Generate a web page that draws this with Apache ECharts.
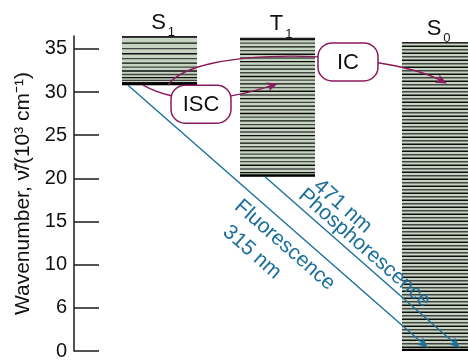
<!DOCTYPE html>
<html><head><meta charset="utf-8">
<script src="https://cdn.jsdelivr.net/npm/echarts@6/dist/echarts.min.js"></script>
<style>html,body{margin:0;padding:0;background:#fff}#c{width:468px;height:361px}</style>
</head><body><div id="c"></div>
<script>
// ---------------- data ----------------
const states = ['S', 'T', 'S'];
const stateSubs = ['1', '1', '0'];
const stateBottom = [30.8, 20.2, 0.0];     // 10^3 cm^-1
const stateTop = [36.5, 36.3, 35.8];
const yTickValues = [0, 5, 10, 15, 20, 25, 30, 35];
const yTickLabels = ['0', '6', '10', '15', '20', '25', '30', '35'];
const radNames = ['Fluorescence', 'Phosphorescence'];
const radWavelengths = ['315 nm', '471 nm'];
const radFrom = [0, 1];
const radTo = [2, 2];
const nonRadNames = ['ISC', 'IC'];
const nonRadFrom = [0, 0];
const nonRadTo = [1, 2];
const nonRadEndE = [31.0, 31.0];
const axisName = 'Wavenumber, \u03bd\u0303/(10\u00b3 cm\u207b\u00b9)';

// ---------------- layout / style (not data) ----------------
const FONT = '"Liberation Sans", Arial, Helvetica, sans-serif';
const FILL = '#c6d5c1';
const BLUE = '#1b6f9a';
const MAG = '#8a1a5a';
const STATE_X = [[48, 123], [166, 241], [328, 394]];
const STRIPE = [{g0: 2.1, k: 0.34}, {g0: 3.7, k: 0}, {g0: 3.5, k: 0}];
const RAD_X = [[54, 354], [191, 386]];
const RAD_TEXT = [{t: 0.56, n: 17, tw: 0.51, nw: 44}, {t: 0.47, n: -12, tw: 0.30, nw: -29}];
const NONRAD_PATH = [
  {x0: 69, x1: 204, c: [[117.5, 27.7]], box: [127, 28.6]},
  {x0: 94, x1: 373, c: [[121, 35.5], [306, 34.9]], box: [274, 33.5]}
];

const measureCtx = document.createElement('canvas').getContext('2d');
function textW(t, size) { measureCtx.font = size + 'px ' + FONT; return measureCtx.measureText(t).width; }

function arrowHead(tip, dx, dy, color) {
  const len = Math.hypot(dx, dy); const ux = dx / len, uy = dy / len;
  const L = 11, W = 4.6;
  const bx = tip[0] - ux * L, by = tip[1] - uy * L;
  const nx = -uy, ny = ux;
  return {type: 'polygon', shape: {points: [
    tip, [bx + nx * W, by + ny * W], [tip[0] - ux * L * 0.75, tip[1] - uy * L * 0.75], [bx - nx * W, by - ny * W]
  ]}, style: {fill: color}};
}

function renderStates(params, api) {
  const i = params.dataIndex;
  const pb = api.coord([STATE_X[i][0], api.value(1)]);
  const pt = api.coord([STATE_X[i][1], api.value(2)]);
  const x0 = pb[0], x1 = pt[0], yb = pb[1], yt = pt[1];
  const ch = [{type: 'rect', shape: {x: x0, y: yt, width: x1 - x0, height: yb - yt}, style: {fill: FILL}}];
  const sp = STRIPE[i];
  let y = yb - (sp.g0 + 0.3), k = 0;
  while (y > yt + 0.4) {
    ch.push({type: 'line', shape: {x1: x0, y1: y, x2: x1, y2: y},
      style: {stroke: k % 2 ? '#444' : '#0e0e0e', lineWidth: 1.35}});
    k++;
    y -= sp.g0 + sp.k * k;
  }
  ch.push({type: 'line', shape: {x1: x0, y1: yt + 0.6, x2: x1, y2: yt + 0.6}, style: {stroke: '#222', lineWidth: 1.2}});
  ch.push({type: 'line', shape: {x1: x0, y1: yb - 1.1, x2: x1, y2: yb - 1.1}, style: {stroke: '#000', lineWidth: 2.4}});
  const cx = (x0 + x1) / 2 - 1;
  const w = textW(states[i], 22);
  ch.push({type: 'text', x: cx, y: yt - 13.5, style: {text: states[i], font: '22px ' + FONT, fill: '#111', align: 'center', verticalAlign: 'middle'}});
  ch.push({type: 'text', x: cx + w / 2 + 2, y: yt - 3.5, style: {text: stateSubs[i], font: '13px ' + FONT, fill: '#111', align: 'left', verticalAlign: 'middle'}});
  return {type: 'group', children: ch};
}

function renderRad(params, api) {
  const i = params.dataIndex;
  const a = api.coord([RAD_X[i][0], api.value(0)]);
  const b0 = api.coord([RAD_X[i][1], api.value(1)]);
  const b = [b0[0], b0[1] - 3];
  const dx = b[0] - a[0], dy = b[1] - a[1];
  const len = Math.hypot(dx, dy); const ux = dx / len, uy = dy / len; const nx = -uy, ny = ux;
  const rot = -Math.atan2(dy, dx);
  const T = RAD_TEXT[i];
  const tl = T.t * len, twl = T.tw * len;
  return {type: 'group', children: [
    {type: 'line', shape: {x1: a[0], y1: a[1], x2: b[0] - ux * 8, y2: b[1] - uy * 8}, style: {stroke: BLUE, lineWidth: 1.4}},
    arrowHead(b, dx, dy, BLUE),
    {type: 'text', x: a[0] + ux * tl + nx * T.n, y: a[1] + uy * tl + ny * T.n, rotation: rot,
      style: {text: radNames[i], font: '21px ' + FONT, fill: BLUE, align: 'center', verticalAlign: 'middle'}},
    {type: 'text', x: a[0] + ux * twl + nx * T.nw, y: a[1] + uy * twl + ny * T.nw, rotation: rot,
      style: {text: radWavelengths[i], font: '21px ' + FONT, fill: BLUE, align: 'center', verticalAlign: 'middle'}}
  ]};
}

function renderNonRad(params, api) {
  const i = params.dataIndex;
  const P = NONRAD_PATH[i];
  const a = api.coord([P.x0, api.value(0)]);
  const b = api.coord([P.x1, api.value(1)]);
  const cs = P.c.map(c => api.coord(c));
  const last = cs[cs.length - 1];
  const dx = b[0] - last[0], dy = b[1] - last[1];
  const len = Math.hypot(dx, dy);
  const e = [b[0] - dx / len * 7, b[1] - dy / len * 7];
  const shape = {x1: a[0], y1: a[1], x2: e[0], y2: e[1], cpx1: cs[0][0], cpy1: cs[0][1]};
  if (cs.length > 1) { shape.cpx2 = cs[1][0]; shape.cpy2 = cs[1][1]; }
  const bc = api.coord(P.box);
  const BW = 60, BH = 38;
  return {type: 'group', children: [
    {type: 'bezierCurve', shape: shape, style: {stroke: MAG, lineWidth: 1.4, fill: null}},
    arrowHead(b, dx, dy, MAG),
    {type: 'rect', shape: {x: bc[0] - BW / 2, y: bc[1] - BH / 2, width: BW, height: BH, r: 14},
      style: {fill: '#fff', stroke: MAG, lineWidth: 1.5}},
    {type: 'text', x: bc[0], y: bc[1] + 1, style: {text: nonRadNames[i], font: '22px ' + FONT, fill: '#111', align: 'center', verticalAlign: 'middle'}}
  ]};
}

const chart = echarts.init(document.getElementById('c'), null, {renderer: 'canvas'});
chart.setOption({
  animation: false,
  backgroundColor: '#fff',
  grid: {left: 74, right: 0, top: 36, bottom: 3, containLabel: false},
  xAxis: {type: 'value', min: 0, max: 394, show: false},
  yAxis: {
    type: 'value', min: 0, max: 36.5,
    name: axisName, nameLocation: 'middle', nameGap: 40,
    nameTextStyle: {fontSize: 21, color: '#111', fontFamily: FONT},
    axisLine: {show: true, lineStyle: {color: '#1a1a1a', width: 1.5}},
    axisTick: {show: true, inside: true, length: 25, customValues: yTickValues, lineStyle: {color: '#1a1a1a', width: 1.5}},
    axisLabel: {customValues: yTickValues, formatter: v => yTickLabels[yTickValues.indexOf(v)],
      fontSize: 20, color: '#111', fontFamily: FONT, margin: 7},
    splitLine: {show: false}
  },
  series: [
    {type: 'custom', clip: false, renderItem: renderStates, z: 1,
      data: states.map((s, i) => [i, stateBottom[i], stateTop[i]])},
    {type: 'custom', clip: false, renderItem: renderRad, z: 2,
      data: radNames.map((n, i) => [stateBottom[radFrom[i]], stateBottom[radTo[i]]])},
    {type: 'custom', clip: false, renderItem: renderNonRad, z: 3,
      data: nonRadNames.map((n, i) => [stateBottom[nonRadFrom[i]], nonRadEndE[i]])}
  ]
});
</script></body></html>
